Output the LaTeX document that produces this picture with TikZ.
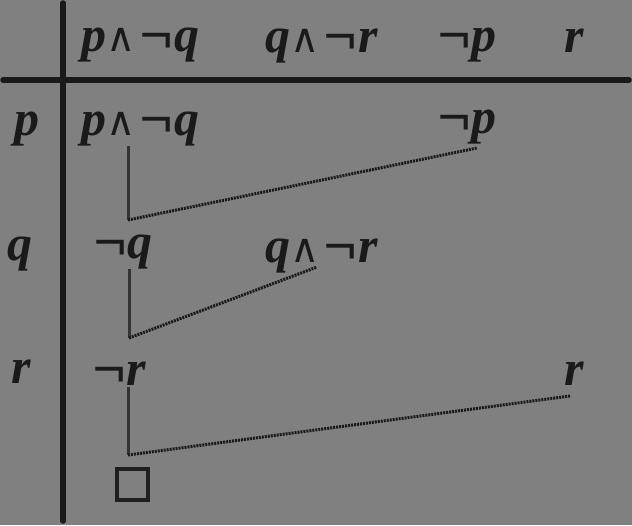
\documentclass[tikz,border=0pt]{standalone}
\usepackage{fontspec}
\setmainfont{Liberation Serif}
\newfontfamily\dvs{DejaVu Sans}
\usepackage{graphicx}
\definecolor{bg}{HTML}{808080}
\definecolor{ink}{HTML}{1A1A1A}
\definecolor{stem}{HTML}{333333}
\newcommand{\Wd}{{\dvs\fontsize{40}{40}\selectfont\upshape\mdseries ∧}}
\newcommand{\Ng}{\raisebox{-2pt}{\scalebox{1.18}[1.1]{¬}}}
\newcommand{\PnQ}{p\kern0pt\Wd\kern4pt\Ng\kern-1pt q}
\newcommand{\QnR}{q\kern0pt\Wd\kern4pt\Ng\kern-1pt r}
\begin{document}
\begin{tikzpicture}[x=1pt,y=-1pt,
  lbl/.style={anchor=base west,inner sep=0pt,outer sep=0pt,text=ink,
    font=\fontsize{50}{60}\selectfont\bfseries\itshape},
  axis/.style={draw=ink,line width=5.5pt,line cap=round},
  stemline/.style={draw=stem,line width=3pt},
  dotline/.style={draw=ink,line width=3pt,dash pattern=on 2pt off 1pt},
  boxnode/.style={draw=ink!80!stem,line width=4pt,minimum size=31pt,inner sep=0pt}]
\fill[bg] (0,0) rectangle (632,525);
\useasboundingbox (0,0) rectangle (632,525);
% axes
\coordinate (vt) at (63,3);
\coordinate (vb) at (63,521);
\coordinate (hl) at (3,80);
\coordinate (hr) at (629,80);
\draw[axis] (vt) -- (vb);
\draw[axis] (hl) -- (hr);
% header
\node[lbl] (h1) at (81,51) {\PnQ};
\node[lbl] (h2) at (265,52) {\QnR};
\node[lbl] (h3) at (437,51) {\Ng\kern-1pt p};
\node[lbl] (h4) at (564,52) {r};
% left column
\node[lbl] (l1) at (14,135) {p};
\node[lbl] (l2) at (8,260) {q};
\node[lbl] (l3) at (12,383) {r};
% row p
\node[lbl] (a1) at (81,135) {\PnQ};
\node[lbl] (a2) at (437,133) {\Ng\kern-1pt p};
% row q
\node[lbl] (b1) at (93,258) {\Ng\kern-1pt q};
\node[lbl] (b2) at (265,262) {\QnR};
% row r
\node[lbl] (c1) at (92,385) {\Ng\kern-1pt r};
\node[lbl] (c2) at (564,385) {r};
% empty clause
\node[boxnode] (bx) at (132.5,484.5) {};
% corners and ends
\coordinate (k1) at (128,220);
\coordinate (k2) at (129,338);
\coordinate (k3) at (128,455);
\coordinate (e1) at (477,148);
\coordinate (e2) at (317,267);
\coordinate (e3) at (570,396);
\draw[stemline] (k1 |- a1.south) -- (k1);
\draw[dotline] (k1) -- (e1);
\draw[stemline] (k2 |- b1.south) -- (k2);
\draw[dotline] (k2) -- (e2);
\draw[stemline] (k3 |- c1.south) -- (k3);
\draw[dotline] (k3) -- (e3);
\end{tikzpicture}
\end{document}
